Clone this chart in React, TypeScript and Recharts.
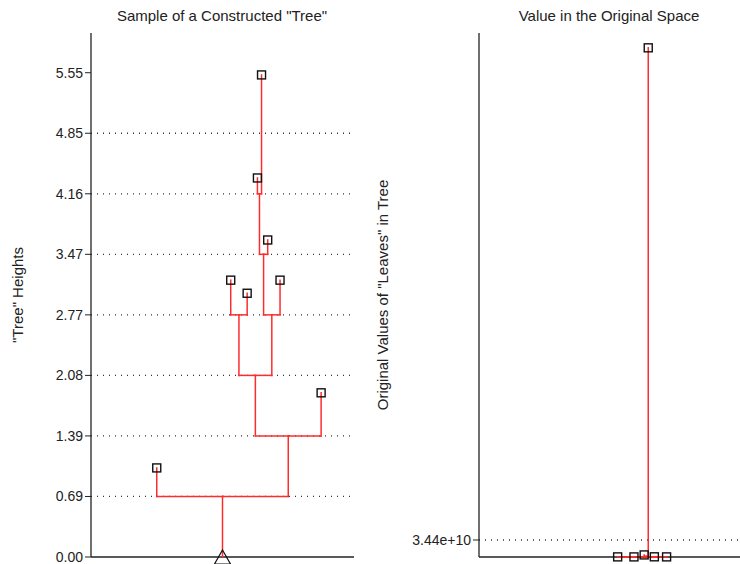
import React from "react";
import { ComposedChart, XAxis, YAxis, Scatter, ReferenceLine } from "recharts";

const FONT = '"Liberation Sans", Arial, Helvetica, sans-serif';
const RED = "#ff2c2c";
const INK = "#222";

// tick levels of the left panel (multiples of ln 2)
const HEIGHT_TICKS = [0, 0.6931, 1.3863, 2.0794, 2.7726, 3.4657, 4.1589, 4.852, 5.5452];
const HEIGHT_GRID = [0.6931, 1.3863, 2.0794, 2.7726, 3.4657, 4.1589, 4.852];

// binary tree: parent index, side (-1 left / +1 right),
// split height for inner nodes, leaf value for leaves
const NODE_PARENT = [-1, 0, 0, 2, 2, 3, 3, 5, 5, 6, 6, 9, 9, 11, 11];
const NODE_SIDE = [0, -1, 1, -1, 1, -1, 1, -1, 1, -1, 1, -1, 1, -1, 1];
const NODE_HEIGHT = [0.6931, 1.02, 1.3863, 2.0794, 1.88, 2.7726, 2.7726, 3.17, 3.02, 3.4657, 3.17, 4.1589, 3.63, 4.34, 5.52];
// the same nodes in the original space
const NODE_ORIG = [0, 2.8e6, 4.0e6, 8.0e6, 6.6e6, 1.6e7, 1.6e7, 2.4e8, 2.0e8, 3.2e8, 2.4e8, 1.3e9, 3.8e8, 4.2e9, 1.03e12];
const ORIG_ROOT = 3; // right panel shows the subtree under this node

const ORIG_TICKS = [3.44e10];
const ORIG_GRID = [3.44e10];

type Seg = [{ x: number; y: number }, { x: number; y: number }];

function layoutX() {
  const depth: number[] = [];
  const xs: number[] = [];
  NODE_PARENT.forEach((p, i) => {
    if (p < 0) {
      depth[i] = 0;
      xs[i] = 0;
      return;
    }
    depth[i] = depth[p] + 1;
    xs[i] = xs[p] + NODE_SIDE[i] * Math.pow(2, -depth[p]);
  });
  return xs;
}

const XS = layoutX();
const isLeaf = (i: number) => !NODE_PARENT.includes(i);

function under(i: number, root: number) {
  let p = NODE_PARENT[i];
  while (p >= 0) {
    if (p === root) return true;
    p = NODE_PARENT[p];
  }
  return false;
}

function edges(h: number[], keep: (i: number) => boolean, stem: boolean): Seg[] {
  const out: Seg[] = [];
  if (stem) out.push([{ x: XS[0], y: 0 }, { x: XS[0], y: h[0] }]);
  NODE_PARENT.forEach((p, i) => {
    if (p < 0 || !keep(i)) return;
    out.push([{ x: XS[p], y: h[p] }, { x: XS[i], y: h[p] }]);
    out.push([{ x: XS[i], y: h[p] }, { x: XS[i], y: h[i] }]);
  });
  return out;
}

const leftEdges = edges(NODE_HEIGHT, () => true, true);
const leftLeaves = NODE_HEIGHT.map((y, i) => ({ x: XS[i], y })).filter((_, i) => isLeaf(i));
const rootPoint = [{ x: XS[0], y: 0 }];

const rightKeep = (i: number) => under(i, ORIG_ROOT);
const rightEdges = edges(NODE_ORIG, rightKeep, false);
const rightLeaves = NODE_ORIG.map((y, i) => ({ x: XS[i], y })).filter((_, i) => isLeaf(i) && rightKeep(i));

const Box = (p: any) => (
  <rect x={p.cx - 4} y={p.cy - 4} width={8} height={8} fill="none" stroke="#111" strokeWidth={1.4} />
);

const Tri = (p: any) => (
  <path
    d={`M${p.cx},${p.cy - 7} L${p.cx + 8},${p.cy + 7} L${p.cx - 8},${p.cy + 7} Z`}
    fill="none"
    stroke="#111"
    strokeWidth={1.2}
  />
);

const tickStyle = { fill: INK, fontSize: 14, fontFamily: FONT };
const labelStyle = { textAnchor: "middle", fill: INK, fontSize: 15, fontFamily: FONT };

function Title({ text, center }: { text: string; center: number }) {
  return (
    <div
      style={{
        position: "absolute",
        top: 7,
        left: center - 200,
        width: 400,
        textAlign: "center",
        fontSize: 15,
        lineHeight: "18px",
        color: INK,
      }}
    >
      {text}
    </div>
  );
}

export default function App() {
  return (
    <div
      style={{
        position: "absolute",
        left: 0,
        top: 0,
        width: 740,
        height: 564,
        background: "#fff",
        fontFamily: FONT,
        overflow: "hidden",
      }}
    >
      <div style={{ position: "absolute", left: 0, top: 0 }}>
        <ComposedChart width={370} height={564} margin={{ top: 33, right: 16, bottom: 7, left: 0 }}>
          <XAxis type="number" dataKey="x" domain={[-2, 2]} hide />
          <YAxis
            type="number"
            dataKey="y"
            domain={[0, 6.0]}
            ticks={HEIGHT_TICKS}
            interval={0}
            tickFormatter={(v: number) => v.toFixed(2)}
            width={91}
            tick={tickStyle}
            tickLine={{ stroke: "#222" }}
            axisLine={{ stroke: "#222", strokeWidth: 1.3 }}
            label={{
              value: '"Tree" Heights',
              angle: -90,
              position: "insideLeft",
              offset: 18,
              style: labelStyle,
            }}
          />
          <ReferenceLine y={0} stroke="#222" strokeWidth={1.3} ifOverflow="visible" />
          {HEIGHT_GRID.map((v) => (
            <ReferenceLine key={v} y={v} stroke="#333" strokeWidth={1.3} strokeDasharray="1 5" />
          ))}
          {leftEdges.map((s, i) => (
            <ReferenceLine key={"e" + i} segment={s} stroke={RED} strokeWidth={1.5} strokeLinecap="square" />
          ))}
          <Scatter data={leftLeaves} shape={Box} isAnimationActive={false} />
          <Scatter data={rootPoint} shape={Tri} isAnimationActive={false} />
        </ComposedChart>
      </div>

      <div style={{ position: "absolute", left: 370, top: 0 }}>
        <ComposedChart width={370} height={564} margin={{ top: 33, right: 0, bottom: 7, left: 0 }}>
          <XAxis type="number" dataKey="x" domain={[-2, 2]} hide />
          <YAxis
            type="number"
            dataKey="y"
            domain={[0, 1.06e12]}
            ticks={ORIG_TICKS}
            interval={0}
            tickFormatter={(v: number) => v.toExponential(2)}
            width={109}
            tick={tickStyle}
            tickLine={{ stroke: "#222" }}
            axisLine={{ stroke: "#222", strokeWidth: 1.3 }}
            label={{
              value: 'Original Values of "Leaves" in Tree',
              angle: -90,
              position: "insideLeft",
              offset: 13,
              style: labelStyle,
            }}
          />
          <ReferenceLine y={0} stroke="#222" strokeWidth={1.3} ifOverflow="visible" />
          {ORIG_GRID.map((v) => (
            <ReferenceLine key={v} y={v} stroke="#333" strokeWidth={1.3} strokeDasharray="1 5" />
          ))}
          {rightEdges.map((s, i) => (
            <ReferenceLine key={"e" + i} segment={s} stroke={RED} strokeWidth={1.5} strokeLinecap="square" />
          ))}
          <Scatter data={rightLeaves} shape={Box} isAnimationActive={false} />
        </ComposedChart>
      </div>

      <Title text={'Sample of a Constructed "Tree"'} center={222} />
      <Title text="Value in the Original Space" center={609} />
    </div>
  );
}
